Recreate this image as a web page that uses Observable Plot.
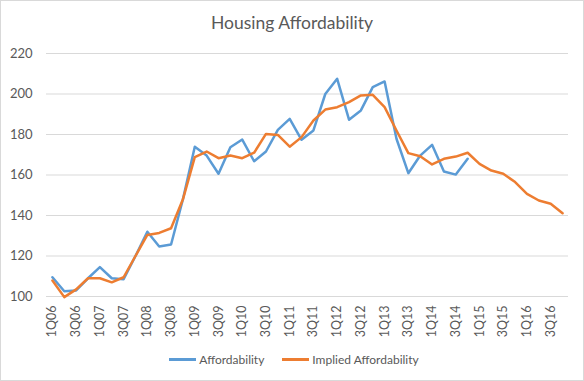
<!DOCTYPE html>
<html><head><meta charset="utf-8">
<script src="https://cdn.jsdelivr.net/npm/d3@7"></script>
<script src="https://cdn.jsdelivr.net/npm/@observablehq/plot@0.6"></script>
<style>
body{margin:0;background:#fff;font-family:Lato,"Open Sans",sans-serif;}
#wrap{position:relative;width:584px;height:381px;overflow:hidden;background:#fff;}
#frame{position:absolute;left:0;top:0;width:584px;height:381px;box-sizing:border-box;border:1px solid #d9d9d9;pointer-events:none;}
#title{height:40px;line-height:46px;text-align:center;font-size:17.5px;color:#595959;}
#chart svg{display:block;}
#legend{height:36px;display:flex;justify-content:center;align-items:center;font-size:12px;color:#595959;padding-left:4px;box-sizing:border-box;padding-bottom:8px;}
.item{display:flex;align-items:center;margin:0 9px;}
.sw{width:27px;height:3px;margin-right:3px;}
</style></head>
<body>
<div id="wrap">
  <div id="title">Housing Affordability</div>
  <div id="chart"></div>
  <div id="legend"></div>
  <div id="frame"></div>
</div>
<script>
const quarters = ["1Q06","2Q06","3Q06","4Q06","1Q07","2Q07","3Q07","4Q07","1Q08","2Q08","3Q08","4Q08",
  "1Q09","2Q09","3Q09","4Q09","1Q10","2Q10","3Q10","4Q10","1Q11","2Q11","3Q11","4Q11",
  "1Q12","2Q12","3Q12","4Q12","1Q13","2Q13","3Q13","4Q13","1Q14","2Q14","3Q14","4Q14",
  "1Q15","2Q15","3Q15","4Q15","1Q16","2Q16","3Q16","4Q16"];
const xTickLabels = ["1Q06","3Q06","1Q07","3Q07","1Q08","3Q08","1Q09","3Q09","1Q10","3Q10","1Q11",
  "3Q11","1Q12","3Q12","1Q13","3Q13","1Q14","3Q14","1Q15","3Q15","1Q16","3Q16"];
const yTicks = [100,120,140,160,180,200,220];
const affordability = [109.5,102.6,103,109,114.5,109,108.5,120,132,124.7,125.7,148,
  174,169.6,160.6,173.7,177.5,166.8,171.6,182.3,187.7,177.4,182,200,
  207.5,187.3,191.9,203.4,206.2,177.9,160.9,169.6,174.9,161.7,160.2,168];
const implied = [107.9,99.7,103.5,109,109,107,109.5,120,130.4,131.4,133.7,148,
  168.8,171.6,168.3,169.6,168.3,171,180.3,179.8,174,178.7,186.9,192.3,
  193.5,196,199.3,199.6,193.5,182,170.8,169.3,165.2,168,169.1,171,
  165.5,162.2,160.6,156.5,150.7,147.4,145.8,141.1];
const seriesNames = ["Affordability","Implied Affordability"];
const seriesColors = ["#5B9BD5","#ED7D31"];

const rowsA = affordability.map((v,i)=>({q:quarters[i], v}));
const rowsB = implied.map((v,i)=>({q:quarters[i], v}));

const chart = Plot.plot({
  width:584, height:305,
  marginLeft:46, marginRight:16, marginTop:13, marginBottom:49,
  style:{fontFamily:"Lato, 'Open Sans', sans-serif", color:"#595959", background:"transparent"},
  x:{type:"point", domain:quarters, padding:0.5, axis:null},
  y:{domain:[100,220], axis:null},
  marks:[
    Plot.gridY(yTicks,{stroke:"#d9d9d9", strokeOpacity:1, strokeWidth:1}),
    Plot.axisY(yTicks,{tickSize:0, tickPadding:14, fontSize:13, label:null}),
    Plot.axisX(xTickLabels,{tickSize:0, tickRotate:-90, tickPadding:9, fontSize:12.5, label:null}),
    Plot.line(rowsA,{x:"q", y:"v", stroke:seriesColors[0], strokeWidth:2.5}),
    Plot.line(rowsB,{x:"q", y:"v", stroke:seriesColors[1], strokeWidth:2.5})
  ]
});
document.getElementById("chart").appendChild(chart);

const leg = document.getElementById("legend");
seriesNames.forEach((n,i)=>{
  const it = document.createElement("div"); it.className="item";
  const sw = document.createElement("div"); sw.className="sw"; sw.style.background=seriesColors[i];
  const t = document.createElement("span"); t.textContent=n;
  it.appendChild(sw); it.appendChild(t); leg.appendChild(it);
});
</script>
</body></html>
